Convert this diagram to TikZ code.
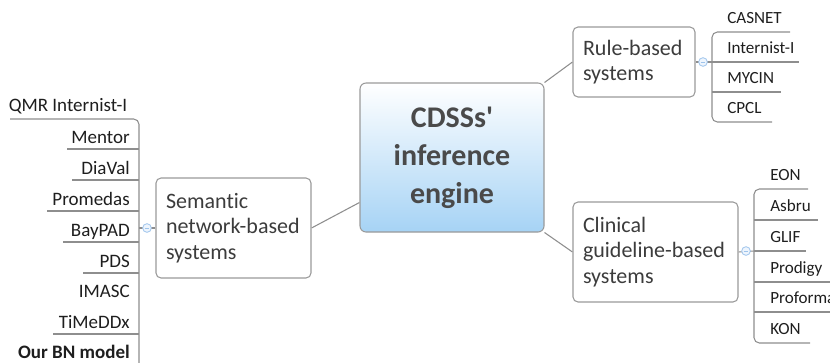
\documentclass[tikz,border=0pt]{standalone}
\usepackage{fontspec}
\setmainfont{Carlito}[Ligatures={TeXOff,CommonOff}]
\usetikzlibrary{backgrounds}
\definecolor{linec}{HTML}{8E8E8E}
\definecolor{boxc}{HTML}{9A9A9A}
\definecolor{boxtext}{HTML}{3C3C3C}
\definecolor{ctext}{HTML}{4A4A4A}
\definecolor{leaftext}{HTML}{1E1E1E}
\definecolor{blueb}{HTML}{A6D3F5}
\definecolor{circb}{HTML}{9EC4EC}
\definecolor{circf}{HTML}{EEF5FD}
\begin{document}
\begin{tikzpicture}[x=0.75pt,y=-0.75pt,
  branch/.style={draw=linec, line width=0.8pt},
  topic/.style={draw=boxc, line width=0.8pt, rounded corners=3.75pt, fill=white,
    inner xsep=7.5pt, inner ysep=0pt, align=left, text=boxtext,
    font=\fontsize{16.5}{19}\selectfont},
  central/.style={draw=boxc, line width=0.8pt, rounded corners=4.5pt,
    top color=white, bottom color=blueb, align=center, text=ctext,
    minimum width=138pt, minimum height=111.75pt, inner sep=0pt,
    font=\bfseries\fontsize{22.5}{28.5}\selectfont},
  leaf/.style={inner sep=0pt, text=leaftext, font=\fontsize{14.25}{16}\selectfont},
  rleaf/.style={leaf, font=\fontsize{12.8}{15}\selectfont},
  collapse/.style={circle, draw=circb, fill=circf, line width=0.6pt, minimum size=6.5pt, inner sep=0pt,
    path picture={\draw[circb, line width=0.6pt] ([xshift=-1.8pt]path picture bounding box.center) -- ([xshift=1.8pt]path picture bounding box.center);}}
]
\useasboundingbox (0,0) rectangle (830,362);

% central and main topics
\node[central] (center) at (452,157.5) {CDSSs'\\inference\\engine};
\node[topic, text width=76.5pt, minimum height=52.5pt] (rule) at (634,62) {Rule-based\\systems};
\node[topic, text width=108.75pt, minimum height=75pt] (clinical) at (655.5,252) {Clinical\\guideline-based\\systems};
\node[topic, text width=101.25pt, minimum height=75pt] (semantic) at (233.5,228) {Semantic\\network-based\\systems};

% rule-based leaves
\foreach \n/\t/\y/\e in {casnet/CASNET/32/790, internist/Internist-I/62/799, mycin/MYCIN/92/781, cpcl/CPCL/122/772}{
  \coordinate (\n-a) at (712,\y);
  \coordinate (\n-b) at (\e,\y);
  \node[rleaf, anchor=base west] (\n) at (727,\y-9) {\t};
}
% clinical leaves
\foreach \n/\t/\y/\e in {eon/EON/189/808, asbru/Asbru/220/818, glif/GLIF/251/806, prodigy/Prodigy/282/840, proforma/Proforma/312/840, kon/KON/343/810}{
  \coordinate (\n-a) at (754,\y);
  \coordinate (\n-b) at (\e,\y);
  \node[rleaf, anchor=base west] (\n) at (770,\y-9) {\t};
}
% semantic leaves
\coordinate (qmr-a) at (10,119);
\coordinate (qmr-b) at (139,119);
\node[leaf, anchor=base] (qmr) at (68,111) {QMR Internist-I};
\foreach \n/\t/\y/\s in {mentor/Mentor/149/67, diaval/DiaVal/180/72, promedas/Promedas/211/47, baypad/BayPAD/242/63, pds/PDS/273/83, timeddx/TiMeDDx/334/53}{
  \coordinate (\n-a) at (\s,\y);
  \coordinate (\n-b) at (139,\y);
  \node[leaf, anchor=base east] (\n) at (130,\y-5.5) {\t};
}
\node[leaf, anchor=base east] (imasc) at (130,297.5) {IMASC};
\node[leaf, anchor=base east, font=\bfseries\fontsize{14.25}{16}\selectfont] (ourbn) at (130,358) {Our BN model};
\coordinate (semend) at (139,372);
\coordinate (semjoin) at (139,228);

% collapse markers
\node[collapse] (rulec) at (703,62) {};
\node[collapse] (clinc) at (746,251) {};
\node[collapse] (semc) at (147,228) {};

\begin{scope}[on background layer]
  \draw[branch] (center.north east) -- (rule.west);
  \draw[branch] (center.south east) -- (clinical.west);
  \draw[branch] ([yshift=-33.75pt]center.west) -- (semantic.east);
  % rule branches
  \draw[branch] (rule.east) -- (internist-a);
  \draw[branch, rounded corners=4pt] (casnet-b) -- (casnet-a) -- (cpcl-a) -- (cpcl-b);
  \draw[branch] (internist-a) -- (internist-b);
  \draw[branch] (mycin-a) -- (mycin-b);
  % clinical branches
  \draw[branch] (clinical.east) -- (glif-a);
  \draw[branch, rounded corners=4pt] (eon-b) -- (eon-a) -- (kon-a) -- (kon-b);
  \foreach \n in {asbru, glif, prodigy, proforma}{\draw[branch] (\n-a) -- (\n-b);}
  % semantic branches
  \draw[branch] (semantic.west) -- (semjoin);
  \draw[branch, rounded corners=4pt] (qmr-a) -- (qmr-b) -- (semend);
  \foreach \n in {mentor, diaval, promedas, baypad, pds, timeddx}{\draw[branch] (\n-a) -- (\n-b);}
\end{scope}
\end{tikzpicture}
\end{document}
